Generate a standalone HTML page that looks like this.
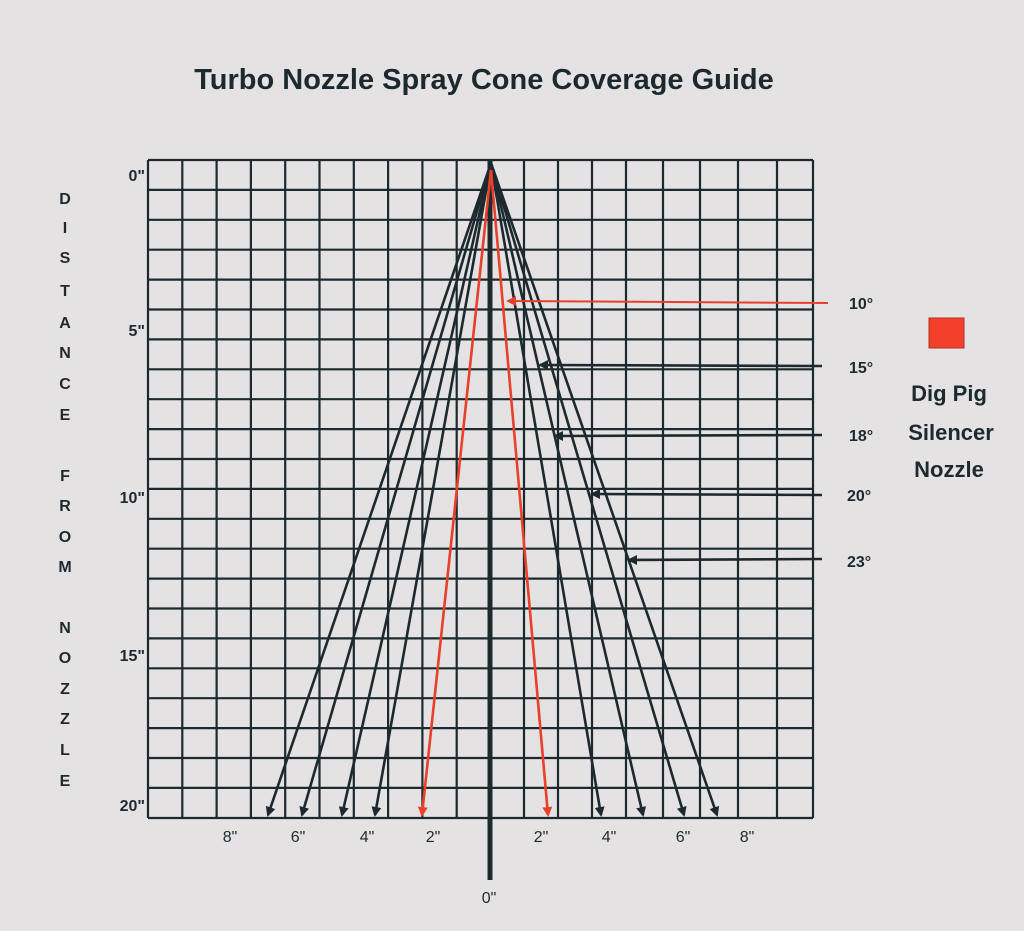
<!DOCTYPE html>
<html><head><style>
html,body{margin:0;padding:0;background:#e5e2e3;}
svg{display:block}
text{font-family:"Liberation Sans",sans-serif;fill:#1c2a30}
</style></head><body>
<svg width="1024" height="931" viewBox="0 0 1024 931" xmlns="http://www.w3.org/2000/svg">
<defs>
<marker id="ab" markerWidth="10" markerHeight="10" refX="8" refY="5" orient="auto" markerUnits="userSpaceOnUse"><path d="M0,0 L10,5 L0,10 z" fill="#1c2a30"/></marker>
<marker id="ar" markerWidth="10" markerHeight="10" refX="8" refY="5" orient="auto" markerUnits="userSpaceOnUse"><path d="M0,0 L10,5 L0,10 z" fill="#e8402a"/></marker>
</defs>
<rect width="1024" height="931" fill="#e5e2e3"/>
<text x="484" y="89" font-size="29" font-weight="bold" text-anchor="middle">Turbo Nozzle Spray Cone Coverage Guide</text>
<path stroke="#1c2a30" stroke-width="2.2" fill="none" d="
M148 160H813 M148 189.9H813 M148 219.8H813 M148 249.7H813 M148 279.6H813 M148 309.5H813 M148 339.4H813 M148 369.3H813 M148 399.2H813 M148 429.1H813 M148 459H813 M148 488.9H813 M148 518.8H813 M148 548.7H813 M148 578.6H813 M148 608.5H813 M148 638.4H813 M148 668.3H813 M148 698.2H813 M148 728.1H813 M148 758H813 M148 787.9H813 M148 818H813
M148 160V818 M182.3 160V818 M216.6 160V818 M250.9 160V818 M285.2 160V818 M319.5 160V818 M353.8 160V818 M388.1 160V818 M422.4 160V818 M456.7 160V818
M524 160V818 M558 160V818 M592 160V818 M626 160V818 M663 160V818 M700 160V818 M738 160V818 M777 160V818 M813 160V818"/>
<line x1="490" y1="160" x2="490" y2="880" stroke="#1c2a30" stroke-width="5"/>
<g stroke="#1c2a30" stroke-width="2.6" marker-end="url(#ab)">
<line x1="491" y1="163" x2="268" y2="815"/>
<line x1="491" y1="163" x2="302" y2="815"/>
<line x1="491" y1="163" x2="342" y2="815"/>
<line x1="491" y1="163" x2="375" y2="815"/>
<line x1="491" y1="163" x2="601" y2="815"/>
<line x1="491" y1="163" x2="643" y2="815"/>
<line x1="491" y1="163" x2="684" y2="815"/>
<line x1="491" y1="163" x2="717" y2="815"/>
<line x1="822" y1="366" x2="540" y2="365"/>
<line x1="822" y1="435" x2="555" y2="436"/>
<line x1="822" y1="495" x2="592" y2="494"/>
<line x1="822" y1="559" x2="629" y2="560"/>
</g>
<g stroke="#e8402a" stroke-width="2.6" marker-end="url(#ar)">
<line x1="491" y1="170" x2="422" y2="815"/>
<line x1="491" y1="170" x2="548" y2="815"/>
<line x1="828" y1="303" x2="508" y2="301" stroke-width="2"/>
</g>
<g font-size="16" font-weight="bold" text-anchor="end">
<text x="145" y="181">0"</text><text x="145" y="336">5"</text><text x="145" y="503">10"</text><text x="145" y="661">15"</text><text x="145" y="811">20"</text>
</g>
<g font-size="16" text-anchor="middle">
<text x="230" y="842">8"</text><text x="298" y="842">6"</text><text x="367" y="842">4"</text><text x="433" y="842">2"</text>
<text x="541" y="842">2"</text><text x="609" y="842">4"</text><text x="683" y="842">6"</text><text x="747" y="842">8"</text>
<text x="489" y="903">0"</text>
</g>
<g font-size="16" font-weight="bold" text-anchor="middle">
<text x="65" y="204">D</text><text x="65" y="233">I</text><text x="65" y="263">S</text><text x="65" y="296">T</text><text x="65" y="328">A</text><text x="65" y="358">N</text><text x="65" y="389">C</text><text x="65" y="420">E</text>
<text x="65" y="481">F</text><text x="65" y="511">R</text><text x="65" y="542">O</text><text x="65" y="572">M</text>
<text x="65" y="633">N</text><text x="65" y="663">O</text><text x="65" y="694">Z</text><text x="65" y="724">Z</text><text x="65" y="755">L</text><text x="65" y="786">E</text>
</g>
<g font-size="16" font-weight="bold">
<text x="849" y="309">10°</text><text x="849" y="373">15°</text><text x="849" y="441">18°</text><text x="847" y="501">20°</text><text x="847" y="567">23°</text>
</g>
<rect x="929" y="318" width="35" height="30" fill="#f2402a" stroke="#b03020" stroke-width="1"/>
<g font-size="22" font-weight="bold" text-anchor="middle">
<text x="949" y="401">Dig Pig</text><text x="951" y="440">Silencer</text><text x="949" y="477">Nozzle</text>
</g>
</svg>
</body></html>
